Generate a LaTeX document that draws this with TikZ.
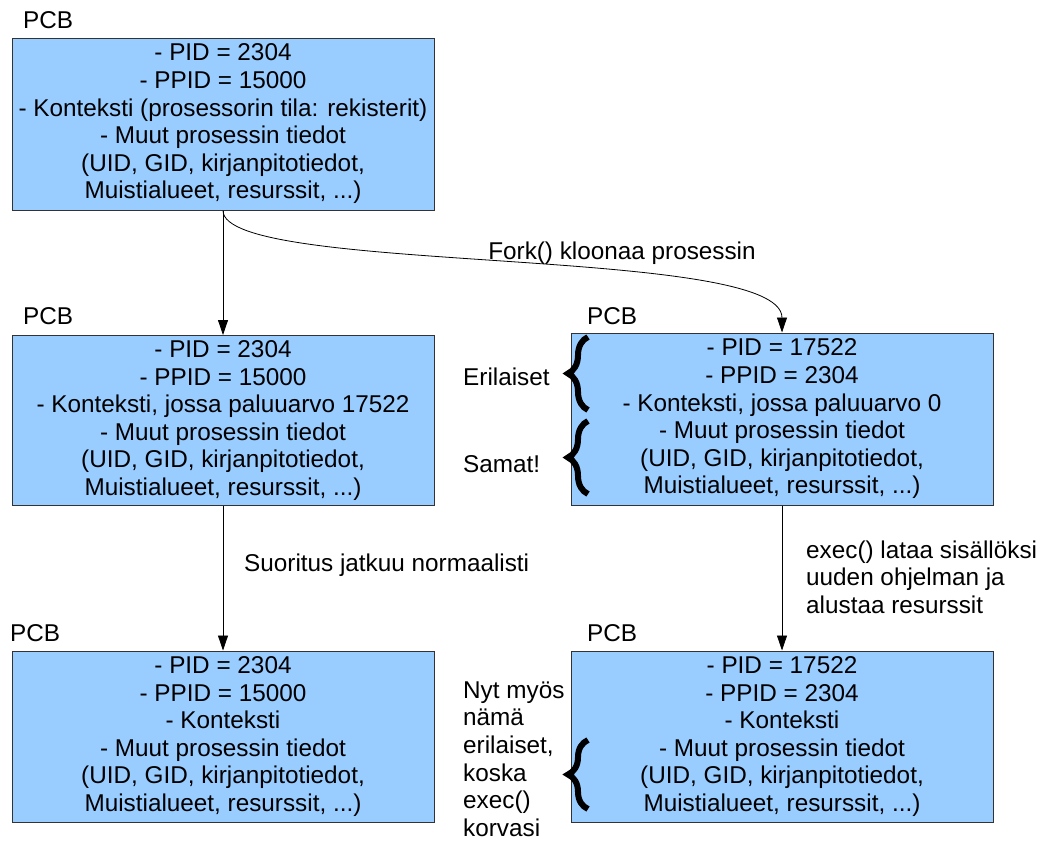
\documentclass[tikz,border=0pt]{standalone}
\usepackage{fontspec}
\setmainfont{Liberation Sans}
\usetikzlibrary{arrows.meta,decorations.pathreplacing}

\definecolor{pcbfill}{HTML}{99CCFF}
\definecolor{pcbline}{HTML}{333333}

\tikzset{
  x=1pt, y=-1pt,
  every node/.style={font=\fontsize{24.3}{27.6}\selectfont, inner sep=0pt},
  pcb/.style={draw=pcbline, line width=1pt, fill=pcbfill, align=center,
              minimum width=422pt, minimum height=#1},
  pcb/.default=172pt,
  tag/.style={anchor=west},
  flow/.style={-{Triangle[length=15pt,width=10pt]}, line width=0.8pt},
  curly/.style={decorate, decoration={brace, amplitude=20pt}, line width=6pt},
}

\begin{document}
\begin{tikzpicture}
\useasboundingbox (0,0) rectangle (1042,841);

% parent process before fork
\node[tag] (l1) at (23,20) {PCB};
\node[pcb] (p1) at (223,124) {- PID = 2304\\- PPID = 15000\\- Konteksti (prosessorin tila: rekisterit)\\- Muut prosessin tiedot\\(UID, GID, kirjanpitotiedot,\\Muistialueet, resurssit, ...)};

% parent after fork
\node[tag] (l2) at (23,316) {PCB};
\node[pcb=170pt] (p2) at (223,420.5) {- PID = 2304\\- PPID = 15000\\- Konteksti, jossa paluuarvo 17522\\- Muut prosessin tiedot\\(UID, GID, kirjanpitotiedot,\\Muistialueet, resurssit, ...)};

% child after fork
\node[tag] (l3) at (587,316) {PCB};
\node[pcb] (c1) at (782,419) {- PID = 17522\\- PPID = 2304\\- Konteksti, jossa paluuarvo 0\\- Muut prosessin tiedot\\(UID, GID, kirjanpitotiedot,\\Muistialueet, resurssit, ...)};

% parent continues
\node[tag] (l4) at (10,633) {PCB};
\node[pcb=171pt] (p3) at (223,736.5) {- PID = 2304\\- PPID = 15000\\- Konteksti\\- Muut prosessin tiedot\\(UID, GID, kirjanpitotiedot,\\Muistialueet, resurssit, ...)};

% child after exec
\node[tag] (l5) at (587,633) {PCB};
\node[pcb=171pt] (c2) at (782,736.5) {- PID = 17522\\- PPID = 2304\\- Konteksti\\- Muut prosessin tiedot\\(UID, GID, kirjanpitotiedot,\\Muistialueet, resurssit, ...)};

% transitions
\draw[flow] (p1.south) -- (p2.north);
\draw[flow] (p1.south) .. controls +(0,65) and +(0,-88) .. (c1.north);
\node (fork) at (622,253) {Fork() kloonaa prosessin};

\draw[flow] (p2.south) -- (p3.north);
\node[tag] (cont) at (244,565) {Suoritus jatkuu normaalisti};

\draw[flow] (c1.south) -- (c2.north);
\node[anchor=west, align=left] (exec) at (806,577) {exec() lataa sisällöksi\\uuden ohjelman ja\\alustaa resurssit};

% braces beside the child blocks
\coordinate (b1s) at (588,410);
\coordinate (b1e) at (588,337);
\coordinate (b2s) at (588,494);
\coordinate (b2e) at (588,421);
\coordinate (b3s) at (588,809);
\coordinate (b3e) at (588,740);
\draw[curly] (b1s) -- (b1e);
\draw[curly] (b2s) -- (b2e);
\draw[curly] (b3s) -- (b3e);

\node[tag] (diff) at (463,377) {Erilaiset};
\node[tag] (same) at (463,464) {Samat!};
\node[anchor=west, align=left] (now) at (463,759) {Nyt myös\\nämä\\erilaiset,\\koska\\exec()\\korvasi};
\end{tikzpicture}
\end{document}
